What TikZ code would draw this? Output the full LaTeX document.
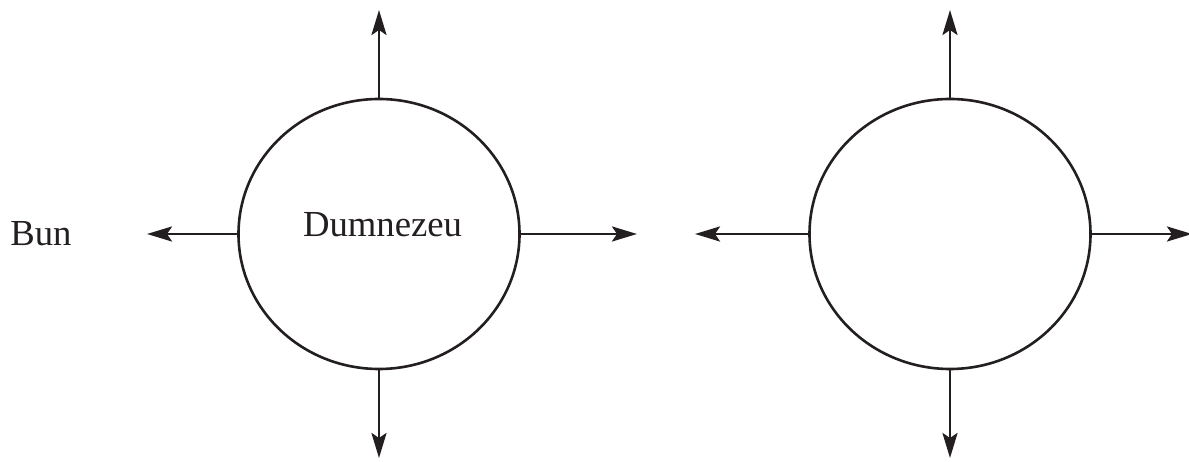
\documentclass[tikz,border=0pt]{standalone}
\usepackage{fontspec}
\setmainfont{Liberation Serif}
\usetikzlibrary{arrows.meta,shapes.geometric}
\definecolor{ink}{HTML}{231F20}
\begin{document}
\begin{tikzpicture}[x=1pt,y=1pt,
    ball/.style={ellipse, draw=ink, line width=2.6pt, minimum width=281pt, minimum height=270pt, inner sep=0pt},
    ray/.style={-{Stealth[length=25pt,width=15pt,inset=5pt]}, draw=ink, line width=2.8pt},
    word/.style={font=\fontsize{36.7}{44}\selectfont, text=ink, inner sep=0pt, anchor=base}]
      \useasboundingbox (0,0) rectangle (1189,462);

      % Left circle with its text
      \node[ball] (god) at (379,228) {};
      \node[word] (godtext) at (382.5,225) {Dumnezeu};
      \node[word] (good) at (41,216) {Bun};

      % Right circle
      \node[ball] (other) at (950,228) {};

      % Arrow ends
      \coordinate (gU) at (379,452);
      \coordinate (gD) at (379,4);
      \coordinate (gL) at (147,228);
      \coordinate (gR) at (637,228);
      \coordinate (oU) at (950,452);
      \coordinate (oD) at (950,4);
      \coordinate (oL) at (695,228);
      \coordinate (oR) at (1192,228);

      % Arrows out of the left circle
      \draw[ray] (god.north) -- (gU);
      \draw[ray] (god.south) -- (gD);
      \draw[ray] (god.west) -- (gL);
      \draw[ray] (god.east) -- (gR);

      % Arrows out of the right circle
      \draw[ray] (other.north) -- (oU);
      \draw[ray] (other.south) -- (oD);
      \draw[ray] (other.west) -- (oL);
      \draw[ray] (other.east) -- (oR);
    \end{tikzpicture}
\end{document}
